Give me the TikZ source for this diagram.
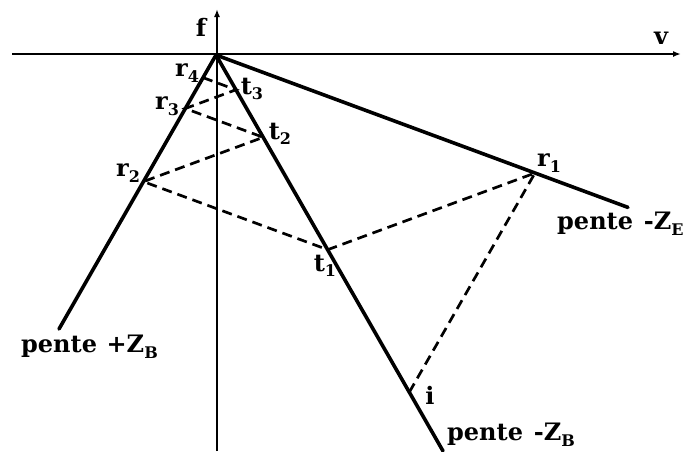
\documentclass[tikz,border=0pt]{standalone}
\usepackage{fontspec}
\setmainfont{DejaVu Serif}
\usetikzlibrary{arrows.meta}
\newcommand\sbs[1]{\raisebox{-0.45ex}{\fontsize{16}{16}\selectfont #1}}
\tikzset{
  axis/.style={line width=2.2pt,-{Latex[length=8pt,width=6pt]}},
  slope/.style={line width=3.6pt,line cap=round},
  refl/.style={line width=2.7pt,dash pattern=on 10pt off 6pt},
  lab/.style={font=\fontsize{24}{28}\selectfont\bfseries,inner sep=0pt},
  pt/.style={font=\fontsize{24}{28}\selectfont\bfseries,inner sep=0pt}
}
\begin{document}
\begin{tikzpicture}[x=1pt,y=-1pt]
\useasboundingbox (0,0) rectangle (684,451);
% key points
\coordinate (O) at (216,55);
\coordinate (Lend) at (59,329);
\coordinate (Bend) at (443,451);
\coordinate (Eend) at (628,207.4);
\coordinate (r1) at (535,173.0);
\coordinate (i) at (409.3,392.2);
\coordinate (t1) at (327.7,249.7);
\coordinate (r2) at (143.4,181.6);
\coordinate (t2) at (263.2,137.3);
\coordinate (r3) at (185.3,108.5);
\coordinate (t3) at (235.9,89.8);
\coordinate (r4) at (203.0,77.6);
\coordinate (hs) at (12,54);
\coordinate (he) at (681,54);
\coordinate (vs) at (217,451);
\coordinate (ve) at (217,9);
% axes
\draw[axis] (hs) -- (he);
\draw[axis] (vs) -- (ve);
% slope lines
\draw[slope] (O) -- (Lend);
\draw[slope] (O) -- (Bend);
\draw[slope] (O) -- (Eend);
% dashed reflections
\draw[refl] (i) -- (r1) -- (t1) -- (r2) -- (t2) -- (r3) -- (t3) -- (r4);
% labels
\node[lab] (lf) at (201,27) {f};
\node[lab] (lv) at (661,38) {v};
\node[pt] (lr1) at (549,163) {r\sbs{1}};
\node[pt] (lt1) at (325,266) {t\sbs{1}};
\node[pt] (lr2) at (128,173) {r\sbs{2}};
\node[pt] (lt2) at (280,134) {t\sbs{2}};
\node[pt] (lr3) at (167,106) {r\sbs{3}};
\node[pt] (lt3) at (252,89) {t\sbs{3}};
\node[pt] (lr4) at (187,73) {r\sbs{4}};
\node[pt] (li) at (430,395) {i};
\node[lab,anchor=west] (pZE) at (557,224) {pente\hspace{0.45em}-Z\sbs{E}};
\node[lab,anchor=west] (pZB) at (447,435) {pente\hspace{0.45em}-Z\sbs{B}};
\node[lab,anchor=west] (pZBp) at (21,347) {pente\hspace{0.4em}+Z\sbs{B}};
\end{tikzpicture}
\end{document}
